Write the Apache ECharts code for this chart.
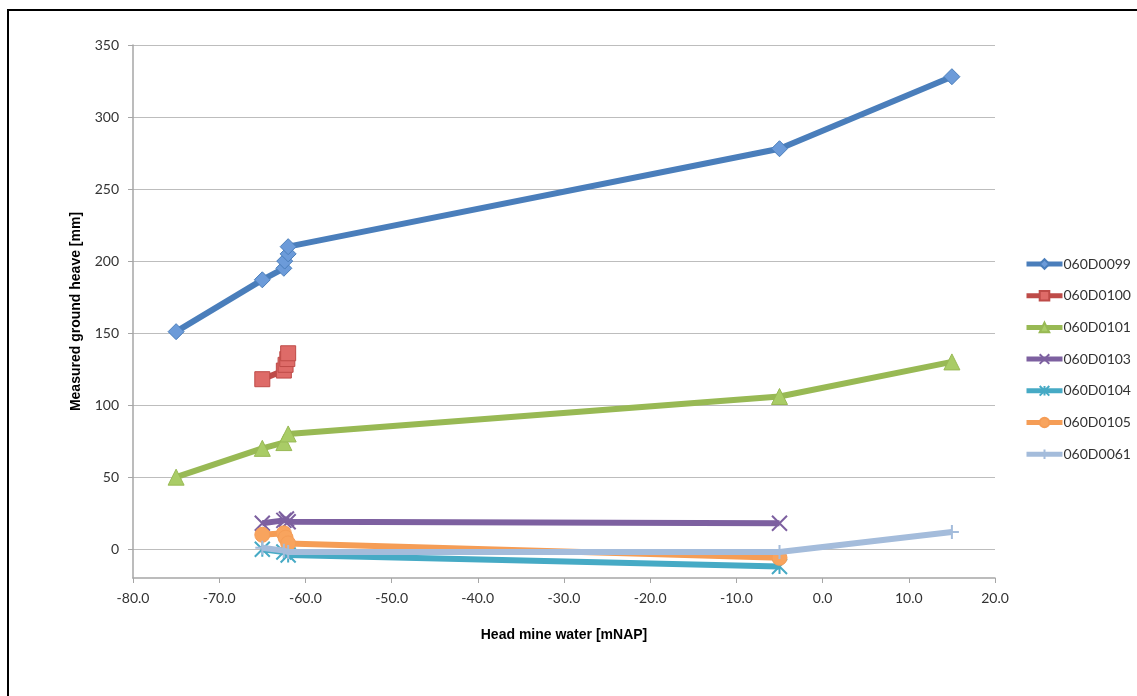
<!DOCTYPE html>
<html>
<head>
<meta charset="utf-8">
<script src="https://cdn.jsdelivr.net/npm/echarts@6/dist/echarts.min.js"></script>
<style>
html,body{margin:0;padding:0;background:#fff;}
#c{width:1137px;height:696px;}
</style>
</head>
<body>
<div id="c"></div>
<script>
// ---- data ----
const seriesNames = ['060D0099','060D0100','060D0101','060D0103','060D0104','060D0105','060D0061'];

const x0099 = [-75, -65, -62.5, -62.4, -62, -62, -5, 15];
const y0099 = [151, 187, 195, 200, 205, 210, 278, 328];

const x0100 = [-65, -62.5, -62.3, -62.1, -62];
const y0100 = [118, 124, 128, 132, 136];

const x0101 = [-75, -65, -62.5, -62, -5, 15];
const y0101 = [50, 70, 74, 80, 106, 130];

const x0103 = [-65, -62.5, -62.2, -62, -5];
const y0103 = [18, 20, 21, 19, 18];

const x0104 = [-65, -62.5, -62, -5];
const y0104 = [0, -2, -4, -12];

const x0105 = [-65, -62.5, -62.3, -62, -5];
const y0105 = [10, 11, 8, 4, -6];

const x0061 = [-65, -62.5, -62, -5, 15];
const y0061 = [1, -1, -2, -2, 12];

const xTicks = [-80, -70, -60, -50, -40, -30, -20, -10, 0, 10, 20];
const yTicks = [0, 50, 100, 150, 200, 250, 300, 350];

// ---- styling ----
const lineColors = ['#4A7EBB','#BE4B48','#98B954','#7D60A0','#46AAC5','#F59D56','#A4BCDB'];
const fillColors = ['#6C9BD9','#DE6B68','#A9CC66','#7D60A0','#46AAC5','#F8A45E','#A4BCDB'];
const symbols = [
  'diamond',
  'rect',
  'triangle',
  'path://M0,0L10,10M10,0L0,10',
  'path://M0,0L10,10M10,0L0,10M5,0L5,10',
  'circle',
  'path://M0,5L10,5M5,0L5,10'
];
const symbolSizes = [16, 15, 16, 15, 15, 15, 14];
const xs = [x0099, x0100, x0101, x0103, x0104, x0105, x0061];
const ys = [y0099, y0100, y0101, y0103, y0104, y0105, y0061];

const pathSymbol = s => s.indexOf('path://') === 0;

const series = seriesNames.map((name, i) => ({
  name: name,
  type: 'line',
  data: xs[i].map((x, k) => [x, ys[i][k]]),
  symbol: symbols[i],
  symbolSize: symbolSizes[i],
  showSymbol: true,
  animation: false,
  lineStyle: { color: lineColors[i], width: 6 },
  itemStyle: pathSymbol(symbols[i])
    ? { color: lineColors[i], borderColor: lineColors[i], borderWidth: 2 }
    : { color: fillColors[i], borderColor: lineColors[i], borderWidth: 1 },
  z: 3 + i
}));

const chart = echarts.init(document.getElementById('c'), null, { renderer: 'canvas' });
chart.setOption({
  backgroundColor: '#ffffff',
  animation: false,
  textStyle: { fontFamily: 'Lato' },
  grid: { left: 133, right: 142, top: 45, bottom: 118, containLabel: false },
  graphic: [{
    type: 'rect',
    shape: { x: 8, y: 10, width: 1140, height: 700 },
    style: { fill: 'none', stroke: '#000', lineWidth: 2 },
    silent: true,
    z: 100
  }],
  legend: {
    orient: 'vertical',
    left: 1019,
    top: 252,
    itemWidth: 36,
    itemHeight: 12,
    itemGap: 17.7,
    data: seriesNames,
    lineStyle: { width: 5 },
    textStyle: { fontFamily: 'Lato', fontSize: 14, color: '#333', padding: [0, 0, 0, -4] }
  },
  xAxis: {
    type: 'value',
    min: -80,
    max: 20,
    interval: 10,
    name: 'Head mine water [mNAP]',
    nameLocation: 'middle',
    nameGap: 50,
    nameTextStyle: { fontFamily: 'Liberation Sans', fontWeight: 'bold', fontSize: 14, color: '#000' },
    axisLine: { show: true, onZero: false, lineStyle: { color: '#A6A6A6', width: 1.5 } },
    axisTick: { show: true, inside: false, length: 5, lineStyle: { color: '#A6A6A6' } },
    axisLabel: {
      margin: 13,
      fontFamily: 'Lato', fontSize: 14, color: '#333',
      formatter: v => xTicks.indexOf(v) >= 0 ? v.toFixed(1) : ''
    },
    splitLine: { show: false }
  },
  yAxis: {
    type: 'value',
    min: -20,
    max: 350,
    interval: 10,
    name: 'Measured ground heave [mm]',
    nameLocation: 'middle',
    nameGap: 50,
    nameTextStyle: { fontFamily: 'Liberation Sans', fontWeight: 'bold', fontSize: 14, color: '#000' },
    axisLine: { show: true, onZero: false, lineStyle: { color: '#A6A6A6', width: 1.5 } },
    axisTick: { show: true, inside: false, length: 5, lineStyle: { color: '#A6A6A6' }, customValues: yTicks },
    axisLabel: {
      margin: 14,
      fontFamily: 'Lato', fontSize: 14, color: '#333',
      customValues: yTicks,
      formatter: v => (v % 50 === 0 && v >= 0) ? String(v) : ''
    },
    splitLine: { show: true, lineStyle: { color: '#BDBDBD', width: 1 } }
  },
  series: series
});
</script>
</body>
</html>
